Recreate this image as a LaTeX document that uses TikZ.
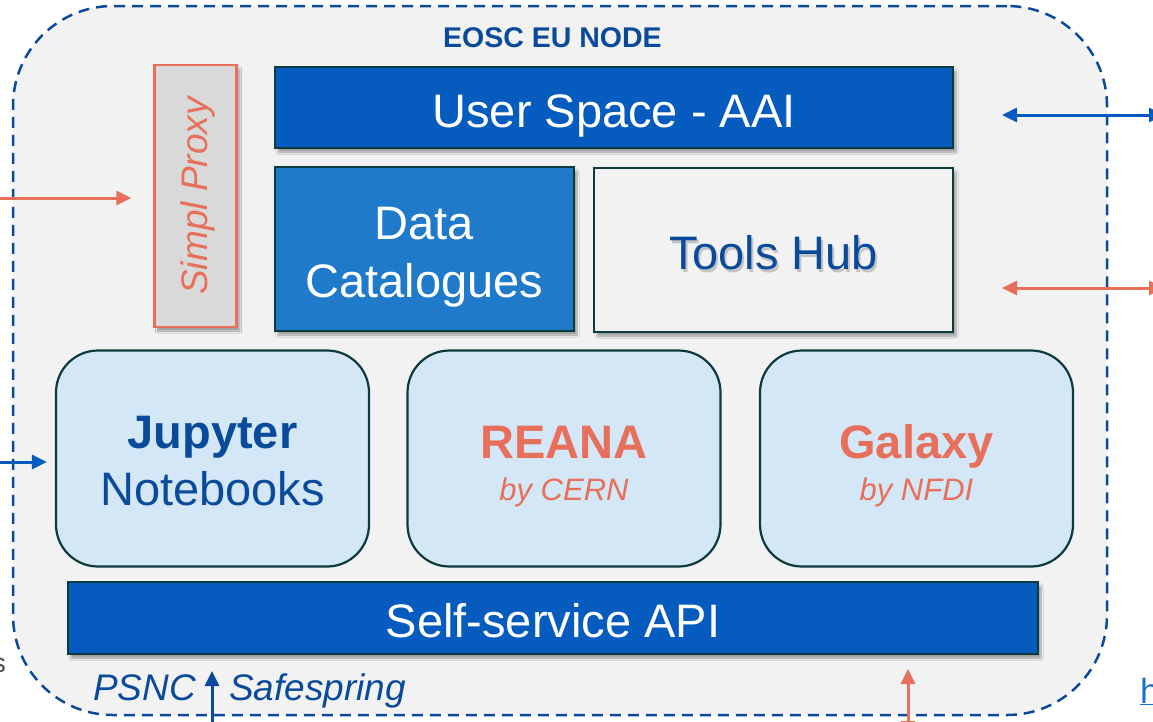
\documentclass[tikz,border=0pt]{standalone}
\usepackage{fontspec}
\setmainfont{Liberation Sans}
\usetikzlibrary{arrows.meta,shadows.blur}
\definecolor{bgfill}{HTML}{F2F2F2}
\definecolor{dblue}{HTML}{0A4A9A}
\definecolor{boxblue}{HTML}{055CBE}
\definecolor{midblue}{HTML}{1F7BC9}
\definecolor{edgeteal}{HTML}{0C3B3E}
\definecolor{coral}{HTML}{E8705A}
\definecolor{lightblue}{HTML}{D3E7F7}
\definecolor{proxygrey}{HTML}{D9D9D9}
\definecolor{linkblue}{HTML}{1E6FC8}
\begin{document}
\begin{tikzpicture}[x=1pt,y=-1pt,
  shadowed/.style={blur shadow={shadow xshift=3pt,shadow yshift=-4pt,shadow blur steps=6,shadow opacity=35}},
  flatbox/.style={draw=edgeteal,line width=2pt,inner sep=0pt,shadowed},
  roundbox/.style={draw=edgeteal,line width=2.2pt,fill=lightblue,rounded corners=42pt,inner sep=0pt,
     minimum width=313pt,minimum height=216pt},
  arr/.style={line width=3pt,-{Triangle[length=15pt,width=14pt]}},
  darr/.style={line width=3pt,{Triangle[length=15pt,width=14pt]}-{Triangle[length=15pt,width=14pt]}},
  lbl/.style={anchor=base,inner sep=0pt},
  big/.style={lbl,font=\fontsize{47}{57}\selectfont},
  bigb/.style={lbl,font=\fontsize{47}{57}\selectfont\bfseries},
  small/.style={lbl,font=\fontsize{31}{36}\selectfont\itshape},
]
\useasboundingbox (0,0) rectangle (1153,721);
\clip (0,0) rectangle (1153,721);

% outer node
\node[draw=dblue,fill=bgfill,line width=2.5pt,dash pattern=on 11pt off 7pt,rounded corners=100pt,
  minimum width=1094pt,minimum height=709pt,inner sep=0pt] (outer) at (560,360.5) {};

\node[text=dblue,font=\fontsize{28.5}{34}\selectfont\bfseries,lbl] (title) at (552.5,47) {EOSC EU NODE};

% Simpl Proxy
\node[draw=coral,fill=proxygrey,line width=2.5pt,inner sep=0pt,shadowed,
  minimum width=82pt,minimum height=262pt] (proxy) at (195.5,196) {};
\node[rotate=90,text=coral,font=\fontsize{37}{44}\selectfont\itshape] (proxyt) at ([xshift=2pt]proxy.center) {Simpl Proxy};

% top boxes
\node[flatbox,fill=boxblue,minimum width=678pt,minimum height=81pt] (usa) at (614,107.5) {};
\node[big,text=white] (usat) at (614,127) {User Space - AAI};
\node[flatbox,fill=midblue,minimum width=299pt,minimum height=164pt] (data) at (424.5,249) {};
\node[big,text=white] (datat1) at (424.5,239) {Data};
\node[big,text=white] (datat2) at (424.5,297) {Catalogues};
\node[flatbox,fill=bgfill,minimum width=359pt,minimum height=164pt] (tools) at (773.5,250) {};
\node[big,text=black!45,opacity=0.45] (toolss) at (775.5,272) {Tools Hub};
\node[big,text=dblue] (toolst) at (773.5,269) {Tools Hub};

% rounded boxes
\node[roundbox] (jup) at (212.5,458.5) {};
\node[bigb,text=dblue] (jupt1) at (212.5,448) {Jupyter};
\node[big,text=dblue] (jupt2) at (212.5,505) {Notebooks};
\node[roundbox] (reana) at (564,458.5) {};
\node[bigb,text=coral] (reanat1) at (564,458) {REANA};
\node[small,text=coral] (reanat2) at (564,500) {by CERN};
\node[roundbox] (galaxy) at (916.5,458.5) {};
\node[bigb,text=coral] (galaxyt1) at (916.5,458) {Galaxy};
\node[small,text=coral] (galaxyt2) at (916.5,500) {by NFDI};

% API
\node[flatbox,fill=boxblue,minimum width=970pt,minimum height=72pt] (api) at (553,618) {};
\node[big,text=white] (apit) at (553,637) {Self-service API};

% bottom labels
\node[text=dblue,font=\fontsize{37}{44}\selectfont\itshape,anchor=base west,inner sep=0pt] (psnc) at (93,700) {PSNC};
\node[text=dblue,font=\fontsize{37}{44}\selectfont\itshape,anchor=base west,inner sep=0pt] (safe) at (229,700) {Safespring};

% cut-off texts at the edges
\node[text=black!70,font=\fontsize{27}{32}\selectfont,anchor=base east,inner sep=0pt] (sfrag) at (6,672) {s};
\node[text=linkblue,font=\fontsize{35}{42}\selectfont,anchor=base west,inner sep=0pt] (hfrag) at (1140,703) {\underline{h}};

% connectors
\coordinate (usaR) at (1164,115);
\coordinate (usaL) at ([xshift=48pt]usa.east |- usaR);
\draw[darr,draw=boxblue,fill=boxblue] (usaR) -- (usaL);
\coordinate (toolsR) at (1164,288);
\coordinate (toolsL) at ([xshift=48pt]tools.east |- toolsR);
\draw[darr,draw=coral,fill=coral] (toolsR) -- (toolsL);
\coordinate (proxyIn) at (-10,198);
\coordinate (proxyEnd) at ([xshift=-22pt]proxy.west |- proxyIn);
\draw[arr,draw=coral,fill=coral] (proxyIn) -- (proxyEnd);
\coordinate (jupIn) at (-10,462);
\coordinate (jupEnd) at ([xshift=-8pt]jup.west |- jupIn);
\draw[arr,draw=boxblue,fill=boxblue] (jupIn) -- (jupEnd);
\coordinate (apiIn) at (212,735);
\coordinate (apiEnd) at ([yshift=-16pt]api.south -| apiIn);
\draw[arr,draw=dblue,fill=dblue] (apiIn) -- (apiEnd);
\coordinate (apiTop) at ([yshift=-14pt]api.south -| 908,0);
\coordinate (apiBot) at (908,736);
\draw[darr,draw=coral,fill=coral] (apiBot) -- (apiTop);
\end{tikzpicture}
\end{document}
